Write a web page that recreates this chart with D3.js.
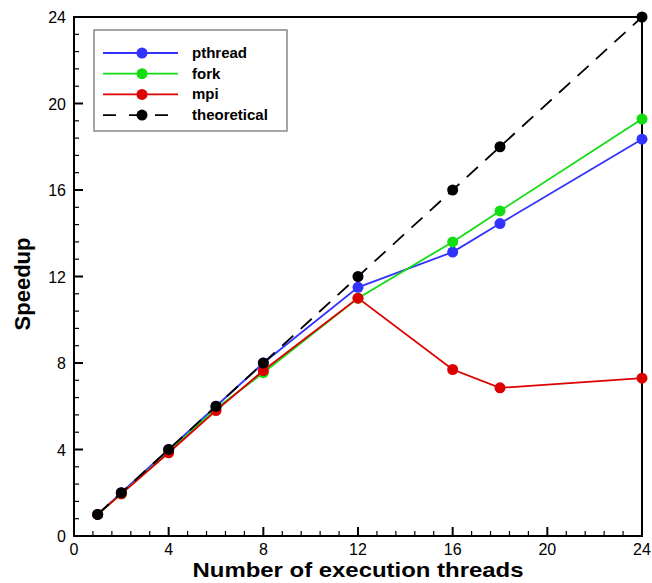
<!DOCTYPE html>
<html><head><meta charset="utf-8">
<script src="https://cdn.jsdelivr.net/npm/d3@7"></script>
<style>body{margin:0;background:#fff}svg{display:block}text{font-family:"Liberation Sans",Arial,sans-serif}</style>
</head><body>
<script>
const threads = [1, 2, 4, 6, 8, 12, 16, 18, 24];
const pthread = [1, 2, 4, 6, 8, 11.5, 13.13, 14.45, 18.35];
const fork = [1, 1.95, 3.9, 5.9, 7.55, 11, 13.6, 15.03, 19.28];
const mpi = [1, 1.95, 3.85, 5.8, 7.65, 11, 7.7, 6.85, 7.3];
const theoretical = [1, 2, 4, 6, 8, 12, 16, 18, 24];
const xTicks = [0, 4, 8, 12, 16, 20, 24];
const yTicks = [0, 4, 8, 12, 16, 20, 24];
const seriesNames = ["pthread", "fork", "mpi", "theoretical"];
const seriesColors = ["#3333ff", "#11dd11", "#dd0000", "#000000"];

const W = 652, H = 583;
const m = {left: 74, right: 10, top: 17, bottom: 47};
const svg = d3.select("body").append("svg").attr("width", W).attr("height", H);
const x = d3.scaleLinear().domain([0, 24]).range([m.left, W - m.right]);
const y = d3.scaleLinear().domain([0, 24]).range([H - m.bottom, m.top]);

const minor = d3.range(0, 24.01, 0.8).filter(v => Math.abs(v / 4 - Math.round(v / 4)) > 1e-6);

const g = svg.append("g").attr("stroke", "#000");
g.selectAll(".mx").data(minor).join("line")
  .attr("x1", d => x(d)).attr("x2", d => x(d))
  .attr("y1", y(0)).attr("y2", y(0) - 5).attr("stroke-width", 1.2);
g.selectAll(".my").data(minor).join("line")
  .attr("y1", d => y(d)).attr("y2", d => y(d))
  .attr("x1", x(0)).attr("x2", x(0) + 5).attr("stroke-width", 1.2);
g.selectAll(".Mx").data(xTicks).join("line")
  .attr("x1", d => x(d)).attr("x2", d => x(d))
  .attr("y1", y(0)).attr("y2", y(0) - 9).attr("stroke-width", 2);
g.selectAll(".My").data(yTicks).join("line")
  .attr("y1", d => y(d)).attr("y2", d => y(d))
  .attr("x1", x(0)).attr("x2", x(0) + 9).attr("stroke-width", 2);

svg.append("rect").attr("x", x(0)).attr("y", y(24)).attr("width", x(24) - x(0)).attr("height", y(0) - y(24))
  .attr("fill", "none").attr("stroke", "#000").attr("stroke-width", 2);

svg.selectAll(".xl").data(xTicks).join("text")
  .attr("x", d => x(d)).attr("y", y(0) + 19).attr("text-anchor", "middle")
  .attr("font-size", 16).text(d => d);
svg.selectAll(".yl").data(yTicks).join("text")
  .attr("x", x(0) - 8).attr("y", d => y(d) + 6).attr("text-anchor", "end")
  .attr("font-size", 16).text(d => d);

svg.append("text").attr("x", 358).attr("y", 577).attr("text-anchor", "middle")
  .attr("font-size", 21).attr("font-weight", "bold")
  .attr("textLength", 331).attr("lengthAdjust", "spacingAndGlyphs").text("Number of execution threads");
svg.append("text").attr("transform", `translate(30,284) rotate(-90)`)
  .attr("text-anchor", "middle").attr("font-size", 22).attr("font-weight", "bold").text("Speedup");

const data = [pthread, fork, mpi, theoretical];
const line = d3.line().x((d, i) => x(threads[i])).y(d => y(d));
[0, 1, 2, 3].forEach(k => {
  const vals = data[k];
  svg.append("path").datum(vals).attr("d", line).attr("fill", "none")
    .attr("stroke", seriesColors[k]).attr("stroke-width", 1.8)
    .attr("stroke-dasharray", k === 3 ? "15,10" : null);
  svg.selectAll(".p" + k).data(vals).join("circle")
    .attr("cx", (d, i) => x(threads[i])).attr("cy", d => y(d)).attr("r", 5.5)
    .attr("fill", seriesColors[k]);
});

const lg = svg.append("g");
lg.append("rect").attr("x", 94).attr("y", 30).attr("width", 193).attr("height", 101)
  .attr("fill", "#fff").attr("stroke", "#888").attr("stroke-width", 1.5);
seriesNames.forEach((n, k) => {
  const yy = 53 + k * 20.7;
  lg.append("line").attr("x1", 103).attr("x2", 178).attr("y1", yy).attr("y2", yy)
    .attr("stroke", seriesColors[k]).attr("stroke-width", 1.8)
    .attr("stroke-dasharray", k === 3 ? "13,13" : null);
  lg.append("circle").attr("cx", 142).attr("cy", yy).attr("r", 5.5).attr("fill", seriesColors[k]);
  lg.append("text").attr("x", 192).attr("y", yy + 5).attr("font-size", 15).attr("font-weight", "bold").text(n);
});
</script>
</body></html>
